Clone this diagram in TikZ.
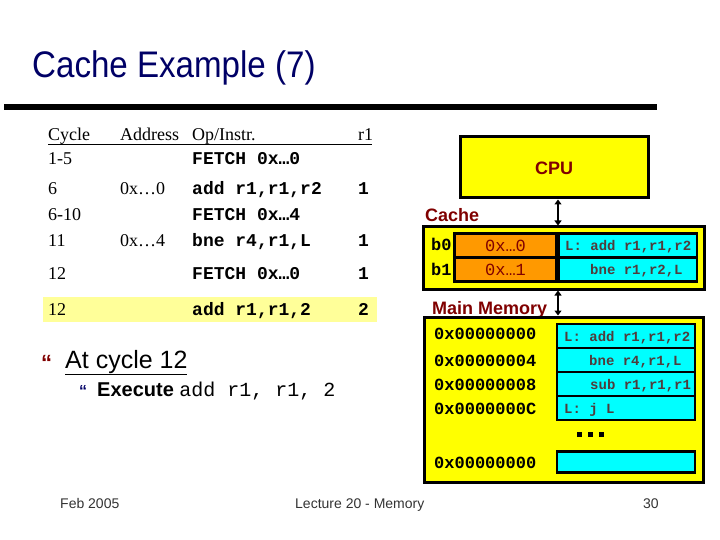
\documentclass[tikz,border=0pt]{standalone}
\usepackage{fontspec}
\usepackage{graphicx}
\setmainfont{Liberation Serif}
\setsansfont{Liberation Sans}
\setmonofont{Liberation Mono}
\usetikzlibrary{arrows.meta}
\definecolor{navy}{RGB}{0,0,102}
\definecolor{dred}{RGB}{128,0,0}
\definecolor{cy}{RGB}{0,255,255}
\definecolor{yl}{RGB}{255,255,0}
\definecolor{org}{RGB}{255,153,0}
\definecolor{hl}{RGB}{255,255,153}
\definecolor{celltxt}{RGB}{80,60,60}
\definecolor{foot}{RGB}{51,51,51}
\newcommand{\fsz}[1]{\fontsize{#1}{#1}\selectfont}
\begin{document}
\begin{tikzpicture}[x=1pt,y=-1pt,inner sep=0pt,
  tab/.style={anchor=base west,font=\fsz{18}\rmfamily},
  tabm/.style={anchor=base west,font=\fsz{18}\ttfamily\bfseries},
  lbl/.style={anchor=base west,font=\fsz{18}\sffamily\bfseries,text=dred},
  addr/.style={anchor=base west,font=\fsz{17}\ttfamily\bfseries},
  ctxt/.style={anchor=base west,font=\fsz{14}\ttfamily\bfseries,text=celltxt},
  mcell/.style={draw,line width=2.5pt,fill=cy,minimum width=138pt,minimum height=24pt},
  bigbox/.style={draw,line width=3pt,fill=yl},
  dbl/.style={line width=2.5pt,{Triangle[length=5pt,width=7pt]}-{Triangle[length=5pt,width=7pt]}},
  foottxt/.style={anchor=base west,font=\fsz{14}\sffamily,text=foot}]
\useasboundingbox (0,0) rectangle (720,540);
% title
\node[anchor=base west,font=\fsz{37}\sffamily,text=navy] (title) at (32,78) {\scalebox{0.895}[1]{Cache Example (7)}};
\fill (4,104) rectangle (657,110);
% table
\fill[hl] (43,297) rectangle (377,322);
\node[tab] (hc) at (48,141) {Cycle};
\node[tab] (ha) at (120,141) {Address};
\node[tab] (ho) at (192,141) {Op/Instr.};
\node[tab] (hr) at (358,141) {r1};
\draw[line width=1pt] (48,145) -- (372,145);
\node[tab] (c1) at (48,165) {1-5};
\node[tabm] (o1) at (192,165) {FETCH 0x…0};
\node[tab] (c2) at (48,195) {6};
\node[tab] (a2) at (120,195) {0x…0};
\node[tabm] (o2) at (192,195) {add r1,r1,r2};
\node[tabm] (r2) at (358,195) {1};
\node[tab] (c3) at (48,221) {6-10};
\node[tabm] (o3) at (192,221) {FETCH 0x…4};
\node[tab] (c4) at (48,246) {11};
\node[tab] (a4) at (120,246) {0x…4};
\node[tabm] (o4) at (192,246) {bne r4,r1,L};
\node[tabm] (r4) at (358,246) {1};
\node[tab] (c5) at (48,279) {12};
\node[tabm] (o5) at (192,279) {FETCH 0x…0};
\node[tabm] (r5) at (358,279) {1};
\node[tab] (c6) at (48,315) {12};
\node[tabm] (o6) at (192,315) {add r1,r1,2};
\node[tabm] (r6) at (358,315) {2};
% bullets
\node[anchor=base west,font=\fsz{22}\sffamily\bfseries,text=dred] (bul1) at (41,370) {“};
\node[anchor=base west,font=\fsz{25}\sffamily] (l1) at (65,368) {\underline{At cycle 12}};
\node[anchor=base west,font=\fsz{16}\sffamily\bfseries,text=navy] (bul2) at (79,396) {“};
\node[anchor=base west,font=\fsz{20}\sffamily] (l2) at (97,396) {\textbf{Execute} {\ttfamily\fsz{20}add r1, r1, 2}};
% CPU
\node[bigbox,minimum width=188pt,minimum height=61pt] (cpu) at (554,167.5) {};
\node[font=\fsz{18}\sffamily\bfseries,text=dred] (cput) at (554,168) {CPU};
% cache
\coordinate (bx) at (558,0);
\node[lbl] (cachel) at (425,222) {Cache};
\node[bigbox,minimum width=281pt,minimum height=62pt] (cache) at (563.5,258) {};
\node[fill=black,minimum width=245pt,minimum height=51pt] (cframe) at (575.5,257.5) {};
\node[fill=org,minimum width=99pt,minimum height=21pt] (or0) at (505.5,245.5) {};
\node[fill=org,minimum width=99pt,minimum height=21pt] (or1) at (505.5,269.5) {};
\node[fill=cy,minimum width=136pt,minimum height=21pt] (cy0) at (628,245.5) {};
\node[fill=cy,minimum width=136pt,minimum height=21pt] (cy1) at (628,269.5) {};
\node[anchor=base west,font=\fsz{17}\ttfamily\bfseries] (b0) at (431,251) {b0};
\node[anchor=base west,font=\fsz{17}\ttfamily\bfseries] (b1) at (431,275) {b1};
\node[font=\fsz{17}\ttfamily,text=dred] (t0) at (505.5,245.5) {0x…0};
\node[font=\fsz{17}\ttfamily,text=dred] (t1) at (505.5,269.5) {0x…1};
\node[ctxt] (ct0) at (565,250) {L: add r1,r1,r2};
\node[ctxt] (ct1) at (590,274) {bne r1,r2,L};
% memory
\node[lbl] (meml) at (432,314) {Main Memory};
\node[bigbox,minimum width=279pt,minimum height=165pt] (mem) at (563.5,399.5) {};
\node[mcell] (m0) at (626,336) {};
\node[mcell] (m1) at (626,360) {};
\node[mcell] (m2) at (626,384) {};
\node[mcell] (m3) at (626,408) {};
\node[mcell,minimum height=21pt] (m4) at (626,462) {};
\node[addr] (ad0) at (434,339) {0x00000000};
\node[addr] (ad1) at (434,366) {0x00000004};
\node[addr] (ad2) at (434,390) {0x00000008};
\node[addr] (ad3) at (434,414) {0x0000000C};
\node[addr] (ad4) at (434,468) {0x00000000};
\node[ctxt] (mt0) at (564,341) {L: add r1,r1,r2};
\node[ctxt] (mt1) at (589,365) {bne r4,r1,L};
\node[ctxt] (mt2) at (590,389) {sub r1,r1,r1};
\node[ctxt] (mt3) at (564,413) {L: j L};
\fill (577,432) rectangle ++(5,5);
\fill (588,432) rectangle ++(5,5);
\fill (599,432) rectangle ++(5,5);
% arrows
\draw[dbl] (cpu.south -| bx) -- (cache.north -| bx);
\draw[dbl] (cache.south -| bx) -- (mem.north -| bx);
% footer
\node[foottxt] (f1) at (60,508) {Feb 2005};
\node[foottxt] (f2) at (295,508) {Lecture 20 - Memory};
\node[foottxt] (f3) at (643,508) {30};
\end{tikzpicture}
\end{document}
